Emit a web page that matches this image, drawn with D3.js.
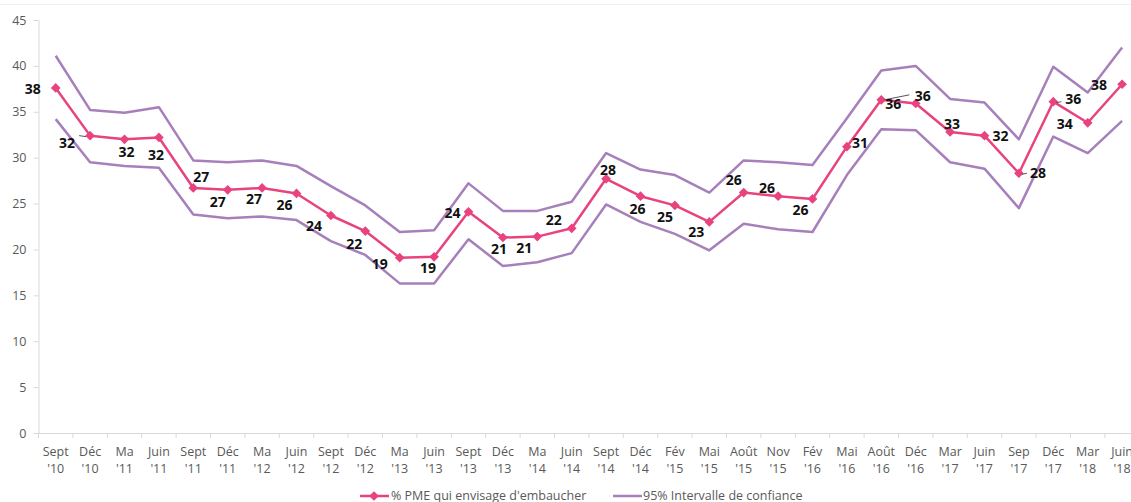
<!DOCTYPE html>
<html>
<head>
<meta charset="utf-8">
<script src="https://cdn.jsdelivr.net/npm/d3@7"></script>
<style>
  body { margin: 0; background: #fff; }
  svg { display: block; font-family: "Open Sans", "Noto Sans", sans-serif; }
</style>
</head>
<body>
<svg id="chart" width="1131" height="502"></svg>
<script>
var categories = ["Sept '10", "Déc '10", "Ma '11", "Juin '11", "Sept '11", "Déc '11", "Ma '12", "Juin '12",
    "Sept '12", "Déc '12", "Ma '13", "Juin '13", "Sept '13", "Déc '13", "Ma '14", "Juin '14",
    "Sept '14", "Déc '14", "Fév '15", "Mai '15", "Août '15", "Nov '15", "Fév '16", "Mai '16",
    "Août '16", "Déc '16", "Mar '17", "Juin '17", "Sep '17", "Déc '17", "Mar '18", "Juin '18"];

var pmeValues = [37.6, 32.4, 32.0, 32.2, 26.7, 26.5, 26.7, 26.1, 23.7, 22.0, 19.1, 19.2, 24.1, 21.3, 21.4, 22.3,
    27.7, 25.8, 24.8, 23.0, 26.2, 25.8, 25.5, 31.2, 36.3, 35.9, 32.8, 32.4, 28.3, 36.1, 33.8, 38.0];

var upperValues = [41.1, 35.2, 34.9, 35.5, 29.7, 29.5, 29.7, 29.1, 26.9, 24.8, 21.9, 22.1, 27.2, 24.2, 24.2, 25.2,
    30.5, 28.7, 28.1, 26.2, 29.7, 29.5, 29.2, 34.3, 39.5, 40.0, 36.4, 36.0, 32.0, 39.9, 37.1, 42.0];

var lowerValues = [34.2, 29.5, 29.1, 28.9, 23.8, 23.4, 23.6, 23.2, 20.9, 19.4, 16.3, 16.3, 21.1, 18.2, 18.6, 19.6,
    24.9, 23.0, 21.7, 19.9, 22.8, 22.2, 21.9, 28.1, 33.1, 33.0, 29.5, 28.8, 24.5, 32.3, 30.5, 34.0];

var yTicks = [0, 5, 10, 15, 20, 25, 30, 35, 40, 45];

var seriesNames = ["% PME qui envisage d'embaucher", "95% Intervalle de confiance"];

// where each data label sits relative to its marker [dx, dy]
var labelOffsets = [[-23, 1], [-23, 7], [2, 13], [-3, 18], [8, -11], [-10, 12], [-8, 11], [-12, 12],
    [-17, 11], [-11, 13], [-20, 6], [-6, 11], [-16, 1], [-4, 12], [-13, 12], [-18, -8],
    [2, -9], [-3, 13], [-10, 12], [-13, 10], [-10, -12], [-11, -8], [-12, 11], [13, -4],
    [12, 4], [7, -7], [2, -8], [16, 0], [19, 0], [20, -3], [-23, 1], [-23, 1]];
var leaderIdx = [1, 24, 28, 29];

var pink = "#e8437f";
var purple = "#a77fba";
var axisGrey = "#d9d9d9";
var textGrey = "#595959";

var svg = d3.select("#chart");
var margin = { top: 20, left: 38.5, bottom: 433 };
var step = 34.4;

var x = d3.scaleBand()
    .domain(categories)
    .range([margin.left, margin.left + categories.length * step])
    .padding(0);
var cx = function(i) { return x(categories[i]) + x.bandwidth() / 2; };

var y = d3.scaleLinear().domain([0, 45]).range([margin.bottom, margin.top]);

// faint frame line at the top
svg.append("line")
    .attr("x1", 0).attr("x2", 1131).attr("y1", 4.5).attr("y2", 4.5)
    .style("stroke", "#f0f0f0");

// y axis
var yAxis = svg.append("g")
    .attr("transform", "translate(" + margin.left + ",0)")
    .call(d3.axisLeft(y).tickValues(yTicks).tickSize(5).tickSizeOuter(0).tickPadding(7));
yAxis.select(".domain").style("stroke", axisGrey);
yAxis.selectAll(".tick line").style("stroke", axisGrey);
yAxis.selectAll(".tick text")
    .style("fill", textGrey)
    .style("font-size", "12.5px")
    .style("font-family", "Open Sans, sans-serif");

// x axis
var xAxis = svg.append("g")
    .attr("transform", "translate(0," + margin.bottom + ")")
    .call(d3.axisBottom(x).tickSize(0).tickSizeOuter(0).tickPadding(0));
xAxis.select(".domain").style("stroke", axisGrey);
xAxis.selectAll(".tick line").remove();
xAxis.selectAll(".tick").append("line")
    .attr("x1", -x.bandwidth() / 2).attr("x2", -x.bandwidth() / 2)
    .attr("y1", 0).attr("y2", 5)
    .style("stroke", axisGrey);
xAxis.selectAll(".tick text").each(function(d) {
    var parts = d.split(" ");
    var t = d3.select(this).text(null)
        .attr("dy", null)
        .attr("y", null)
        .style("fill", textGrey)
        .style("font-size", "12.5px")
        .style("font-family", "Open Sans, sans-serif");
    t.append("tspan").attr("x", 0).attr("y", 23).text(parts[0]);
    t.append("tspan").attr("x", 0).attr("y", 40).text(parts[1]);
});

// confidence interval lines
var line = d3.line()
    .x(function(d, i) { return cx(i); })
    .y(function(d) { return y(d); });

[upperValues, lowerValues].forEach(function(vals) {
    svg.append("path")
        .datum(vals)
        .attr("d", line)
        .style("fill", "none")
        .style("stroke", purple)
        .style("stroke-width", 2.5)
        .style("stroke-linejoin", "round");
});

// main series
svg.append("path")
    .datum(pmeValues)
    .attr("d", line)
    .style("fill", "none")
    .style("stroke", pink)
    .style("stroke-width", 2.5)
    .style("stroke-linejoin", "round");

var diamond = d3.symbol().type(d3.symbolDiamond2).size(60);

svg.append("g").selectAll("path.marker")
    .data(pmeValues)
    .enter().append("path")
    .attr("class", "marker")
    .attr("d", diamond)
    .attr("transform", function(d, i) { return "translate(" + cx(i) + "," + y(d) + ")"; })
    .style("fill", pink);

// leader lines for moved labels
svg.append("g").selectAll("line.leader")
    .data(leaderIdx)
    .enter().append("line")
    .attr("class", "leader")
    .attr("x1", function(i) { return cx(i) + (labelOffsets[i][0] < 0 ? -4 : 3); })
    .attr("y1", function(i) { return y(pmeValues[i]) + (i === 24 ? 0 : 1); })
    .attr("x2", function(i) { return cx(i) + (labelOffsets[i][0] < 0 ? -11 : (i === 24 ? 28 : 8)); })
    .attr("y2", function(i) { return y(pmeValues[i]) + (i === 24 ? -5 : 0); })
    .style("stroke", "#555")
    .style("stroke-width", 1);

// data labels
svg.append("g").selectAll("text.label")
    .data(pmeValues)
    .enter().append("text")
    .attr("class", "label")
    .attr("x", function(d, i) { return cx(i) + labelOffsets[i][0]; })
    .attr("y", function(d, i) { return y(d) + labelOffsets[i][1]; })
    .attr("text-anchor", "middle")
    .attr("dy", "0.35em")
    .style("font-size", "14px")
    .style("font-weight", "bold")
    .style("fill", "#111")
    .text(function(d) { return d3.format(".0f")(d); });

// legend
var legend = svg.append("g").attr("transform", "translate(0,496)");
legend.append("line")
    .attr("x1", 360).attr("x2", 389).attr("y1", 0).attr("y2", 0)
    .style("stroke", pink).style("stroke-width", 2.5);
legend.append("path")
    .attr("d", diamond)
    .attr("transform", "translate(374,0)")
    .style("fill", pink);
legend.append("text")
    .attr("x", 391).attr("y", 0).attr("dy", "0.35em")
    .style("font-size", "12.5px").style("fill", textGrey)
    .text(seriesNames[0]);
legend.append("line")
    .attr("x1", 613).attr("x2", 642).attr("y1", 0).attr("y2", 0)
    .style("stroke", purple).style("stroke-width", 2.5);
legend.append("text")
    .attr("x", 643).attr("y", 0).attr("dy", "0.35em")
    .style("font-size", "12.5px").style("fill", textGrey)
    .text(seriesNames[1]);
</script>
</body>
</html>
